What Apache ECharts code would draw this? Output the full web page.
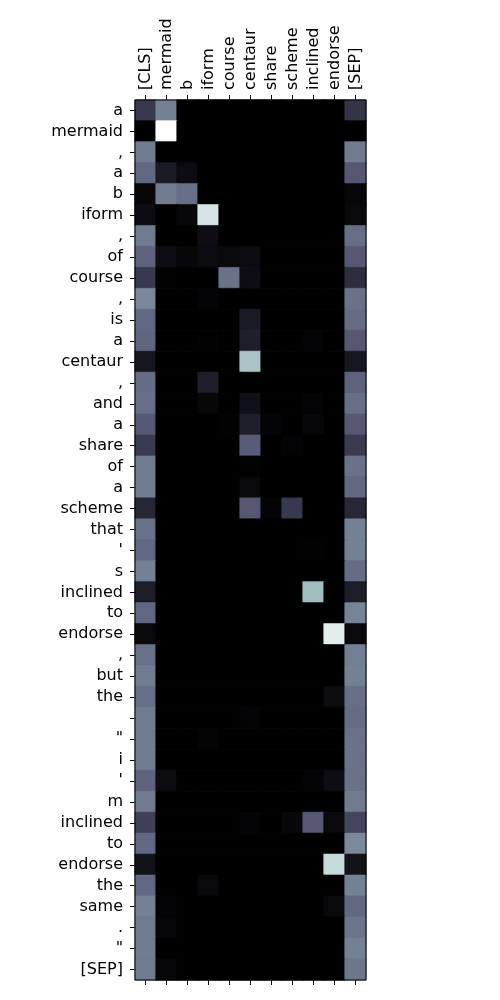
<!DOCTYPE html>
<html>
<head>
    <meta charset="utf-8">
    <script src="https://cdn.jsdelivr.net/npm/echarts@6/dist/echarts.min.js"></script>
    <style>body{margin:0;background:#fff;}</style>
</head>
<body>
<div id="main" style="width: 500px;height:1000px;"></div>
<script type="text/javascript">

var xLabels = ['[CLS]', 'mermaid', 'b', 'iform', 'course', 'centaur', 'share', 'scheme', 'inclined', 'endorse', '[SEP]'];
var yLabels = ['a', 'mermaid', ',', 'a', 'b', 'iform', ',', 'of', 'course', ',', 'is', 'a', 'centaur', ',', 'and', 'a', 'share', 'of', 'a', 'scheme', 'that', "'", 's', 'inclined', 'to', 'endorse', ',', 'but', 'the', ' ', '"', 'i', "'", 'm', 'inclined', 'to', 'endorse', 'the', 'same', '.', '"', '[SEP]'];

// one row per token on the y axis, columns follow xLabels
var weights = [
    [0.25, 0.52, 0, 0, 0, 0, 0, 0, 0, 0, 0.23],
    [0, 1.00, 0, 0, 0, 0, 0, 0, 0, 0, 0],
    [0.50, 0, 0, 0, 0, 0, 0, 0, 0, 0, 0.50],
    [0.44, 0.12, 0.05, 0, 0, 0, 0, 0, 0, 0, 0.38],
    [0.03, 0.50, 0.46, 0, 0, 0, 0, 0, 0, 0, 0.03],
    [0.05, 0, 0.03, 0.88, 0, 0, 0, 0, 0, 0, 0.04],
    [0.50, 0, 0, 0.06, 0, 0, 0, 0, 0, 0, 0.46],
    [0.42, 0.06, 0.03, 0.05, 0.04, 0.05, 0, 0, 0, 0, 0.38],
    [0.25, 0.01, 0, 0, 0.47, 0.06, 0, 0, 0, 0, 0.20],
    [0.54, 0, 0, 0.02, 0, 0, 0, 0, 0, 0, 0.47],
    [0.44, 0, 0, 0, 0, 0.12, 0, 0, 0, 0, 0.45],
    [0.43, 0, 0, 0.01, 0, 0.14, 0, 0, 0.02, 0, 0.38],
    [0.10, 0, 0, 0, 0, 0.75, 0, 0, 0, 0, 0.10],
    [0.45, 0, 0, 0.14, 0, 0, 0, 0, 0, 0, 0.42],
    [0.46, 0, 0, 0.03, 0, 0.07, 0, 0, 0.02, 0, 0.46],
    [0.38, 0, 0, 0, 0.01, 0.14, 0.02, 0, 0.03, 0, 0.38],
    [0.26, 0, 0, 0, 0, 0.40, 0, 0.02, 0, 0, 0.26],
    [0.50, 0, 0, 0, 0, 0.01, 0, 0, 0, 0, 0.47],
    [0.50, 0, 0, 0, 0, 0.04, 0, 0, 0, 0, 0.44],
    [0.17, 0, 0, 0, 0, 0.38, 0.02, 0.25, 0, 0, 0.17],
    [0.47, 0, 0, 0, 0, 0, 0, 0, 0, 0, 0.52],
    [0.44, 0, 0, 0, 0, 0, 0, 0, 0.01, 0, 0.52],
    [0.52, 0, 0, 0, 0, 0, 0, 0, 0, 0, 0.45],
    [0.13, 0, 0, 0, 0, 0, 0, 0, 0.72, 0, 0.13],
    [0.44, 0, 0, 0, 0, 0, 0, 0, 0, 0, 0.53],
    [0.04, 0, 0, 0, 0, 0, 0, 0, 0, 0.92, 0.04],
    [0.47, 0, 0, 0, 0, 0, 0, 0, 0, 0, 0.51],
    [0.50, 0, 0, 0, 0, 0, 0, 0, 0, 0, 0.52],
    [0.46, 0, 0, 0, 0, 0, 0, 0, 0, 0.05, 0.46],
    [0.50, 0, 0, 0, 0, 0.02, 0, 0, 0, 0, 0.45],
    [0.50, 0, 0, 0.02, 0, 0, 0, 0, 0, 0, 0.47],
    [0.50, 0, 0, 0, 0, 0, 0, 0, 0, 0, 0.47],
    [0.42, 0.05, 0, 0, 0, 0, 0, 0, 0.02, 0.06, 0.47],
    [0.50, 0, 0, 0, 0, 0, 0, 0, 0, 0, 0.50],
    [0.28, 0, 0, 0, 0, 0.02, 0, 0.03, 0.38, 0.04, 0.30],
    [0.44, 0, 0, 0, 0, 0, 0, 0, 0, 0, 0.55],
    [0.08, 0, 0, 0, 0, 0, 0, 0, 0, 0.84, 0.08],
    [0.44, 0, 0, 0.04, 0, 0, 0, 0, 0, 0, 0.52],
    [0.52, 0.02, 0, 0, 0, 0, 0, 0, 0, 0.04, 0.44],
    [0.50, 0.03, 0, 0, 0, 0, 0, 0, 0, 0, 0.48],
    [0.50, 0, 0, 0, 0, 0, 0, 0, 0, 0, 0.52],
    [0.50, 0.03, 0, 0, 0, 0, 0, 0, 0, 0, 0.49]
];

// matplotlib "bone" colormap sampled every 0.1
var boneColors = ['#000000', '#16161f', '#2d2d3e', '#43435d', '#595c79', '#707b8f',
                  '#8699a6', '#9cb8bc', '#b9d2d2', '#dce9e9', '#ffffff'];

// linear lookup in the sampled colormap (vmin 0, vmax 1)
function bone(v) {
    var t = Math.max(0, Math.min(1, v)) * (boneColors.length - 1);
    var i = Math.min(Math.floor(t), boneColors.length - 2);
    var f = t - i;
    var a = boneColors[i], b = boneColors[i + 1];
    var out = '#';
    for (var k = 1; k < 7; k += 2) {
        var ca = parseInt(a.substr(k, 2), 16), cb = parseInt(b.substr(k, 2), 16);
        var c = Math.round(ca + (cb - ca) * f);
        out += (c < 16 ? '0' : '') + c.toString(16);
    }
    return out;
}

var cells = [];
weights.forEach(function (row, y) {
    row.forEach(function (v, x) {
        var c = bone(v);
        // border in the fill colour hides the seams between neighbouring cells
        cells.push({ value: [x, y, v], itemStyle: { color: c, borderColor: c, borderWidth: 0.6 } });
    });
});

var myChart = echarts.init(document.getElementById('main'));

var labelFont = { color: '#000', fontSize: 16, fontFamily: 'DejaVu Sans' };
var tick = { show: true, interval: 0, alignWithLabel: true, length: 5, lineStyle: { color: '#000', width: 1 } };

option = {
    backgroundColor: '#fff',
    animation: false,
    grid: {
        left: 135,
        right: 134,
        top: 100,
        bottom: 20,
        show: true,
        borderColor: '#000',
        borderWidth: 1,
        z: 10
    },
    xAxis: [
        {
            type: 'category',
            data: xLabels,
            position: 'top',
            axisLine: { show: false },
            axisTick: tick,
            axisLabel: Object.assign({ rotate: -90, margin: 10, interval: 0 }, labelFont),
            splitLine: { show: false }
        },
        {
            type: 'category',
            data: xLabels,
            position: 'bottom',
            axisLine: { show: false },
            axisTick: tick,
            axisLabel: { show: false },
            splitLine: { show: false }
        }
    ],
    yAxis: {
        type: 'category',
        data: yLabels,
        inverse: true,
        axisLine: { show: false },
        axisTick: tick,
        axisLabel: Object.assign({ margin: 12, interval: 0 }, labelFont),
        splitLine: { show: false }
    },
    series: [
        {
            type: 'heatmap',
            xAxisIndex: 0,
            data: cells,
            emphasis: { disabled: true }
        }
    ]
};

myChart.setOption(option);

</script>
</body>
</html>
